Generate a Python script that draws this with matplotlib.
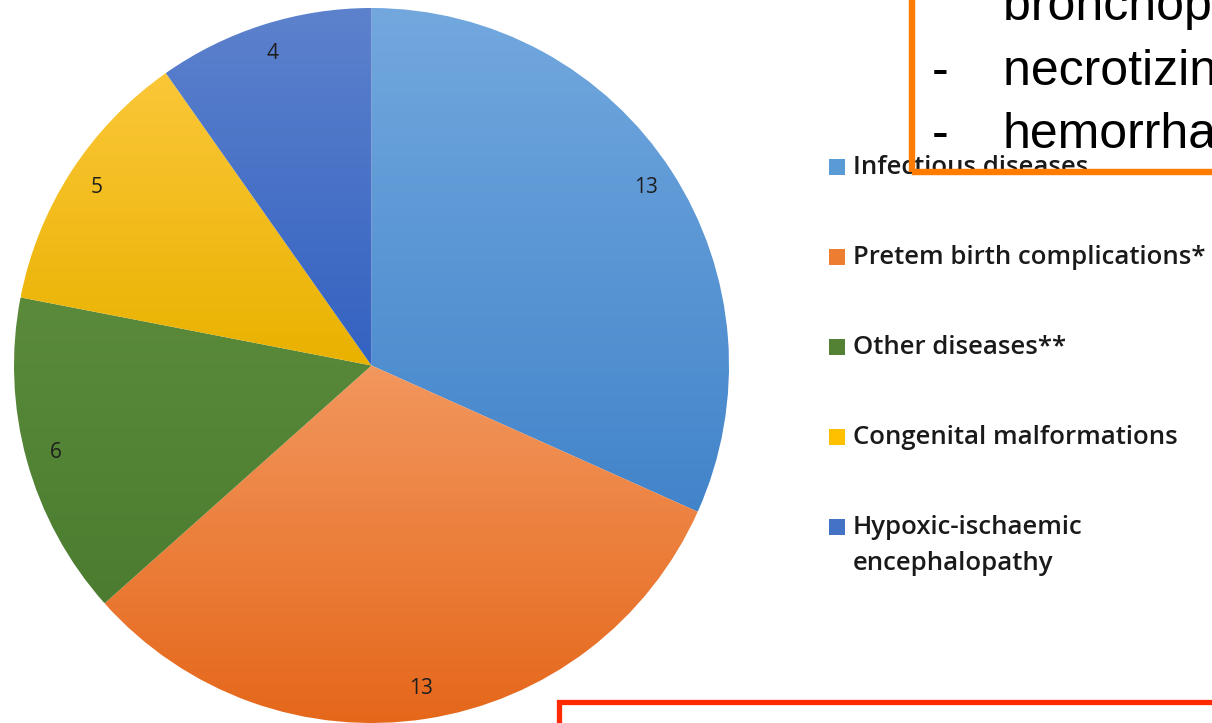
import numpy as np
import matplotlib
matplotlib.use('Agg')
import matplotlib.pyplot as plt
from matplotlib.colors import LinearSegmentedColormap
from matplotlib.patches import Rectangle

# causes of death
labels = ['Infectious diseases', 'Pretem birth complications*', 'Other diseases**',
          'Congenital malformations', 'Hypoxic-ischaemic\nencephalopathy']
counts = [13, 13, 6, 5, 4]
base_colors = ['#5b9bd5', '#ed7d31', '#548235', '#ffc000', '#4472c4']
# top / bottom shades of each slice
grad_top = ['#72a8de', '#f2975e', '#5a8a3a', '#fbc738', '#5d82cd']
grad_bottom = ['#4284ca', '#e5671a', '#4c7c2f', '#e9b200', '#3462c1']

box_lines = ['bronchopulmonary dysplasia', 'necrotizing enterocolitis', 'hemorrhage']

W, H = 1212, 723
fig = plt.figure(figsize=(W / 100, H / 100), dpi=100)
ax = fig.add_axes([0, 0, 1, 1])

cx, cy, r = 371.5, H - 365.5, 357.5
wedges, texts = ax.pie(counts, labels=[str(c) for c in counts], colors=base_colors,
                       startangle=90, counterclock=False, radius=r, center=(cx, cy),
                       labeldistance=0.915, frame=False,
                       textprops=dict(fontsize=15, color='#1e1e1e', family='Open Sans'))
for t in texts:
    t.set_horizontalalignment('center')
    t.set_verticalalignment('center')
    t.set_zorder(3)

# vertical gradient inside each wedge
for w, c0, c1 in zip(wedges, grad_top, grad_bottom):
    ext = w.get_path().get_extents()
    cmap = LinearSegmentedColormap.from_list('g', [c1, c0])
    grad = np.linspace(0, 1, 256).reshape(-1, 1)
    im = ax.imshow(grad, cmap=cmap, aspect='auto', origin='lower',
                   extent=[ext.x0, ext.x1, ext.y0, ext.y1], zorder=1.5)
    im.set_clip_path(w)
    w.set_facecolor('none')

ax.set_xlim(0, W)
ax.set_ylim(0, H)
ax.set_aspect('equal')
ax.axis('off')

# legend, drawn as squares + text
leg_y = [167, 257, 347, 437, 527]
for lab, col, y in zip(labels, base_colors, leg_y):
    ax.add_patch(Rectangle((829, H - y - 8), 16, 16, facecolor=col, edgecolor='none', zorder=4))
    for k, part in enumerate(lab.split('\n')):
        ax.text(853, H - y - 36 * k, part, fontsize=18.5, family='Open Sans',
                fontweight='semibold', color='#1a1a1a', va='center', ha='left', zorder=4)

# orange box with complication list
ax.add_patch(Rectangle((911.5, H - 171.5), 400, 300, facecolor='none', edgecolor='#ff7c00',
                       linewidth=4.6, zorder=5, clip_on=False))
ax.text(1003, H - 20, box_lines[0], fontsize=36, family='Liberation Sans',
        va='baseline', ha='left', zorder=6)
for i, line in enumerate(box_lines[1:]):
    y = H - 85 - 63 * i
    ax.text(932, y, '-', fontsize=36, family='Liberation Sans', va='baseline', ha='left', zorder=6)
    ax.text(1003, y, line, fontsize=36, family='Liberation Sans', va='baseline', ha='left', zorder=6)

# red box at bottom
ax.add_patch(Rectangle((558.5, -100), 800, 100 + (H - 702), facecolor='none', edgecolor='#ff2a00',
                       linewidth=3.8, zorder=5, clip_on=False))

fig.savefig('out.png', dpi=100)
